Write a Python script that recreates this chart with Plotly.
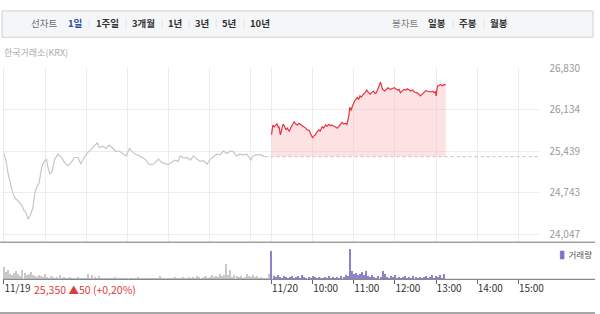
import plotly.graph_objects as go

W, H = 600, 314

# ---------------- data ----------------
# day 1 (11/19) price, minutes after 09:00
day1_min = [0, 1, 3, 6, 9, 13, 16, 21, 26, 29, 32, 35, 39, 42, 45, 47, 51, 55, 58, 62,
            64, 67, 70, 74, 79, 84, 88, 93, 98, 103, 108, 112, 117, 122, 127, 132, 136, 139, 144, 149,
            153, 158, 163, 168, 173, 178, 183, 187, 192, 197, 202, 207, 211, 216, 221, 225, 230, 234, 239, 244,
            249, 254, 257, 262, 267, 272, 276, 281, 286, 291, 296, 301, 305, 310, 315, 320, 325, 330, 334, 339,
            344, 349, 354, 357, 360, 363, 368, 375, 380]
day1_price = [25401, 25362, 25280, 25062, 24926, 24735, 24653, 24599, 24527, 24451, 24407, 24298, 24380, 24489, 24735, 24817, 24898, 25172, 25253, 25308,
              25172, 25062, 25089, 25308, 25390, 25335, 25253, 25198, 25253, 25335, 25335, 25226, 25335, 25417, 25471, 25526, 25581, 25499, 25526, 25488,
              25542, 25499, 25434, 25444, 25401, 25362, 25488, 25434, 25390, 25362, 25335, 25291, 25226, 25215, 25253, 25308, 25253, 25236, 25215, 25253,
              25291, 25269, 25362, 25324, 25335, 25291, 25362, 25308, 25269, 25280, 25226, 25308, 25346, 25390, 25379, 25444, 25401, 25444, 25434, 25362,
              25390, 25379, 25390, 25335, 25291, 25362, 25379, 25379, 25350]

# day 2 (11/20) price, minutes after 09:00
day2_min = [0, 1, 2, 4, 6, 8, 10, 11, 13, 15, 17, 19, 21, 23, 26, 28, 30, 33, 35, 38,
            40, 43, 45, 47, 50, 52, 55, 57, 60, 62, 64, 66, 69, 71, 74, 76, 79, 81, 84, 86,
            88, 91, 93, 96, 98, 100, 103, 105, 108, 110, 111, 113, 114, 116, 118, 120, 122, 125, 127, 129,
            131, 134, 136, 139, 141, 144, 146, 149, 151, 153, 156, 159, 160, 162, 165, 167, 170, 172, 174, 177,
            179, 181, 184, 186, 188, 191, 193, 196, 198, 201, 203, 206, 208, 211, 213, 215, 217, 220, 222, 225,
            227, 230, 232, 235, 237, 239, 240, 242, 244, 247, 249, 252, 254]
day2_price = [25717, 25800, 25880, 25850, 25881, 25900, 25840, 25853, 25717, 25830, 25897, 25860, 25799, 25830, 25771, 25831, 25880, 25935, 25900, 25881,
              25910, 25881, 25860, 25853, 25830, 25799, 25790, 25745, 25663, 25700, 25717, 25760, 25799, 25780, 25853, 25830, 25881, 25860, 25892, 25870,
              25881, 25860, 25853, 25827, 25860, 25881, 25925, 25900, 25908, 25890, 25935, 26050, 26180, 26126, 26200, 26262, 26300, 26344, 26310, 26372,
              26350, 26399, 26420, 26470, 26430, 26399, 26430, 26453, 26410, 26426, 26508, 26601, 26560, 26481, 26453, 26480, 26508, 26490, 26481, 26500,
              26508, 26490, 26470, 26480, 26426, 26460, 26481, 26470, 26491, 26470, 26453, 26470, 26437, 26430, 26416, 26400, 26372, 26410, 26437, 26460,
              26453, 26440, 26437, 26450, 26426, 26440, 26372, 26535, 26550, 26563, 26540, 26563, 26552]

prev_close = 25350

# volume per 3-minute bucket
vol_day1 = [13, 8, 10, 6, 5, 7,
            9, 6, 4, 10, 7, 5, 6,
            8, 5, 4, 3, 5, 4, 3, 6,
            3, 2, 4, 3, 2, 3, 5, 2, 3, 2,
            2, 3, 2, 1, 2, 3, 2, 1, 2, 2,
            6, 2, 5, 3, 2, 4, 2, 1, 2, 1,
            2, 1, 1, 3, 1, 1, 2, 1, 1, 1,
            2, 1, 1, 1, 3, 1, 1, 1, 2, 1,
            1, 2, 1, 1, 1, 4, 1, 2, 1, 1,
            2, 1, 3, 1, 2, 2, 3, 2, 1, 3,
            2, 3, 2, 4, 3, 2, 3, 4, 2, 3,
            5, 3, 4, 3, 6, 4, 5, 16, 5, 10,
            3, 5, 4, 3, 4, 2, 3, 6, 4, 3,
            5, 3, 4, 2, 3, 2, 1, 1, 6]
vol_day2 = [29,
            4, 3, 5, 3, 2, 4, 3, 2, 3, 4,
            2, 3, 4, 2, 5, 3, 2, 3, 2, 4,
            3, 2, 3, 2, 2, 3, 2, 4, 2, 3,
            2, 3, 2, 4, 3, 5, 4,
            31,
            9, 6, 7, 5, 6, 8, 5, 9, 4, 3, 5, 3,
            2, 4, 3, 9, 6, 3, 2, 4, 3, 5,
            2, 3, 2, 3, 4, 2, 3, 2, 4, 3,
            2, 3, 2, 3, 4, 2, 3, 5, 2, 4,
            3, 5, 2, 6]
bucket = 3

day_len = 390  # 09:00-15:30
y_tick_vals = [24047, 24743, 25439, 26134, 26830]
y_tick_text = ["24,047", "24,743", "25,439", "26,134", "26,830"]
x_tick_vals = [0, 390, 450, 510, 570, 630, 690, 750]
x_tick_text = ["11/19", "11/20", "10:00", "11:00", "12:00", "13:00", "14:00", "15:00"]
grid_vals = [0, 60, 120, 180, 240, 300, 360, 390, 450, 510, 570, 630, 690, 750]

period_labels = ["1일", "1주일", "3개월", "1년", "3년", "5년", "10년"]
candle_labels = ["일봉", "주봉", "월봉"]

# ---------------- helpers ----------------
def px(x):
    return x / W

def py(y):
    return 1 - y / H

FONT = "Noto Sans CJK KR, Noto Sans, sans-serif"

fig = go.Figure()

x2 = [m + day_len for m in day2_min]

fig.add_trace(go.Scatter(x=day1_min, y=day1_price, mode="lines",
                         line=dict(color="#c6c6c6", width=1.2), hoverinfo="skip"))
fig.add_trace(go.Scatter(x=[day1_min[-1], 2 * day_len], y=[prev_close, prev_close], mode="lines",
                         line=dict(color="#c2c2c2", width=1, dash="dot"), hoverinfo="skip"))
fig.add_trace(go.Scatter(x=[x2[0], x2[-1]], y=[prev_close, prev_close], mode="lines",
                         line=dict(width=0, color="rgba(0,0,0,0)"), hoverinfo="skip"))
fig.add_trace(go.Scatter(x=x2, y=day2_price, mode="lines", fill="tonexty",
                         fillcolor="rgba(250,190,196,0.45)",
                         line=dict(color="#e8323e", width=1.2), hoverinfo="skip"))

fig.add_trace(go.Bar(x=[i * bucket for i in range(len(vol_day1))], y=vol_day1,
                     width=1.5, marker=dict(color="#c8c8c8", line=dict(width=0)),
                     xaxis="x2", yaxis="y2", hoverinfo="skip"))
fig.add_trace(go.Bar(x=[day_len + i * bucket for i in range(len(vol_day2))], y=vol_day2,
                     width=1.5, marker=dict(color="#8f82cc", line=dict(width=0)),
                     xaxis="x2", yaxis="y2", hoverinfo="skip"))

x_range = [-2.9, 780.7]
x_dom = [2 / W, 544 / W]

shapes = [
    dict(type="rect", xref="paper", yref="paper", x0=px(2), x1=px(598), y0=py(30), y1=py(3),
         fillcolor="#f5f6f8", line=dict(color="#cdd1d7", width=1), layer="below"),
    dict(type="line", xref="paper", yref="paper", x0=0, x1=1, y0=py(240.5), y1=py(240.5),
         line=dict(color="#a0a0a0", width=1.5)),
    dict(type="line", xref="paper", yref="paper", x0=px(3), x1=1, y0=py(278.5), y1=py(278.5),
         line=dict(color="#8a8a8a", width=1.2)),
    dict(type="line", xref="paper", yref="paper", x0=0, x1=1, y0=py(313), y1=py(313),
         line=dict(color="#8a8a8a", width=1.5)),
]

ann = []
def text(t, x, y, size=9, color="#333", bold=False, anchor="center"):
    s = f"<b>{t}</b>" if bold else t
    ann.append(dict(text=s, x=px(x), y=py(y), xref="paper", yref="paper", showarrow=False,
                    xanchor=anchor, yanchor="middle", font=dict(family=FONT, size=size, color=color)))

text("선차트", 44.5, 15.5, size=9.5, color="#6a6a6a")
period_x = [75.5, 108.5, 145, 176.5, 204, 231, 262]
sep_x = [90, 127, 163, 191, 218, 246]
for i, (lab, cx) in enumerate(zip(period_labels, period_x)):
    text(lab, cx, 15.5, size=9.5, color="#2d4fa6" if i == 0 else "#333", bold=True)
for sx in sep_x:
    text("|", sx, 15, size=8, color="#d6d6d6")
text("봉차트", 408.5, 15.5, size=9.5, color="#7a7a7a")
for lab, cx in zip(candle_labels, [441, 471.5, 503.5]):
    text(lab, cx, 15.5, size=9.5, color="#333", bold=True)
for sx in [457, 488]:
    text("|", sx, 15, size=8, color="#d6d6d6")

text("한국거래소(KRX)", 2, 45.5, size=9, color="#aaaaaa", anchor="left")
text("25,350 ▲50 (+0,20%)", 32, 289, size=10.5, color="#e03a3a", anchor="left")
ann.append(dict(text="<span style='color:#7f72c4'>▌</span>거래량", x=px(563), y=py(252.5),
                xref="paper", yref="paper", showarrow=False, xanchor="left", yanchor="middle",
                font=dict(family=FONT, size=8.5, color="#555")))

fig.update_layout(
    width=W, height=H, margin=dict(l=0, r=0, t=0, b=0),
    paper_bgcolor="white", plot_bgcolor="white", showlegend=False,
    font=dict(family=FONT),
    shapes=shapes, annotations=ann,
    xaxis=dict(domain=x_dom, range=x_range, tickvals=grid_vals, showticklabels=False,
               showgrid=True, gridcolor="#ececec", gridwidth=1, zeroline=False, showline=False,
               ticks="", fixedrange=True),
    yaxis=dict(domain=[py(240), py(62)], range=[23916, 26833], side="right",
               tickvals=y_tick_vals, ticktext=y_tick_text, showgrid=True, gridcolor="#ececec",
               zeroline=False, showline=False, ticks="outside", ticklen=7,
               tickcolor="rgba(0,0,0,0)", tickfont=dict(family=FONT, size=10, color="#999")),
    xaxis2=dict(domain=x_dom, range=x_range, anchor="y2", tickvals=x_tick_vals, ticktext=x_tick_text,
                ticks="outside", ticklen=4, tickcolor="#666", showgrid=False, zeroline=False,
                showline=False, ticklabelposition="outside right",
                tickfont=dict(family=FONT, size=10, color="#333")),
    yaxis2=dict(domain=[py(278.5), py(242)], range=[0, 36], showticklabels=False,
                showgrid=False, zeroline=False, showline=False),
    bargap=0,
)

fig.write_html("out.html", config={"displayModeBar": False})
